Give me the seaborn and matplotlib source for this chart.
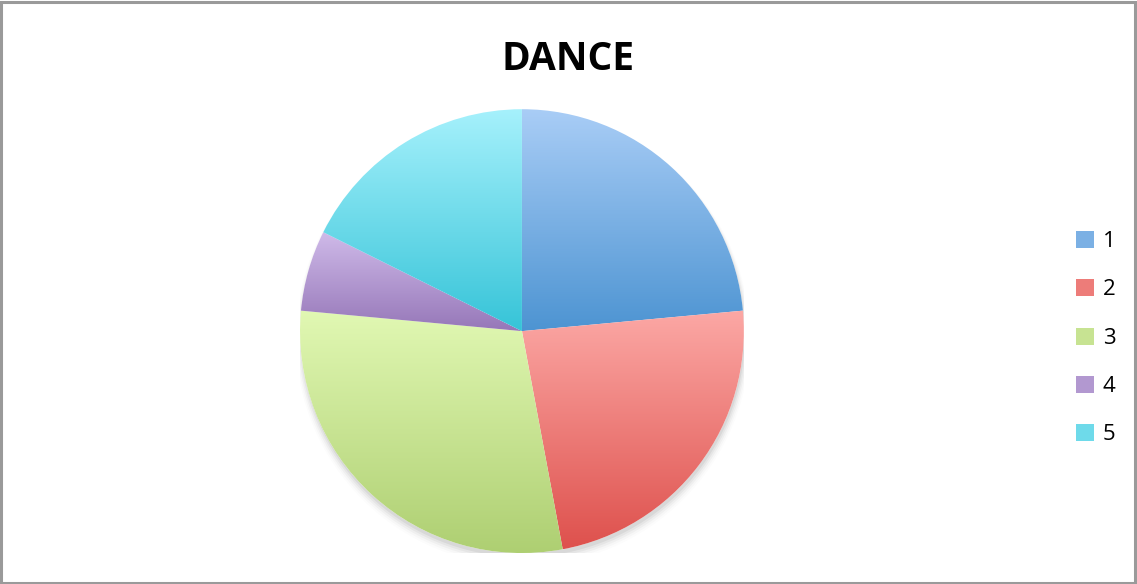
import numpy as np
import matplotlib
matplotlib.use("Agg")
import matplotlib.pyplot as plt
from matplotlib.patches import Patch, Rectangle, Circle
import seaborn as sns

# Survey responses for DANCE
categories = ["1", "2", "3", "4", "5"]
counts = [4, 4, 5, 1, 3]

# Vertical gradient (light top -> deeper bottom) for each slice
top_colors = ["#a9cdf6", "#fca8a5", "#e1f8b3", "#cfbae9", "#a6f1fc"]
bottom_colors = ["#4d94d2", "#de514d", "#aecf72", "#9677b8", "#36c4d8"]

sns.set_theme(style="white")
plt.rcParams["font.family"] = ["Open Sans", "DejaVu Sans"]

fig = plt.figure(figsize=(11.37, 5.84), dpi=100)
fig.patch.set_facecolor("white")

ax = fig.add_axes([0.2638, 0.053, 0.3905, 0.760])
ax.set_xlim(-1.0, 1.0)
ax.set_ylim(-1.0, 1.0)
ax.set_aspect("equal")
ax.axis("off")

# soft shadow under the pie
for i, a in enumerate(np.linspace(0.05, 0.01, 5)):
    ax.add_patch(Circle((0.004, -0.018 - 0.004 * i), 1.0 + 0.006 * i,
                        facecolor="black", edgecolor="none", alpha=a, zorder=0))
ax.add_patch(Circle((0, 0), 1.0, facecolor="white", edgecolor="none", zorder=0.5))

wedges, _ = ax.pie(counts, startangle=90, counterclock=False, radius=1.0,
                   wedgeprops=dict(linewidth=0, edgecolor="none"))

for w, c_top, c_bot in zip(wedges, top_colors, bottom_colors):
    grad = np.array(sns.blend_palette([c_top, c_bot], n_colors=256))[:, None, :]
    bb = w.get_path().get_extents()
    w.set_facecolor("none")
    im = ax.imshow(grad, extent=[bb.x0, bb.x1, bb.y0, bb.y1], origin="upper",
                   aspect="auto", interpolation="bilinear", zorder=1)
    im.set_clip_path(w)

ax.set_xlim(-1.0, 1.0)
ax.set_ylim(-1.0, 1.0)
ax.set_aspect("equal")

fig.text(0.4995, 0.898, "DANCE", ha="center", va="center",
         fontsize=28, fontweight="bold", color="black")

mid_colors = [sns.blend_palette([t, b], n_colors=3)[1] for t, b in zip(top_colors, bottom_colors)]
handles = [Patch(facecolor=c, edgecolor="none") for c in mid_colors]
leg = fig.legend(handles, categories, loc="center left", bbox_to_anchor=(0.9365, 0.421),
                 frameon=False, fontsize=16, handlelength=0.8, handleheight=0.8,
                 handletextpad=0.4, labelspacing=1.22, borderpad=0)
for t in leg.get_texts():
    t.set_color("black")

fig.patches.append(Rectangle((0.001, 0.002), 0.997, 0.995, transform=fig.transFigure,
                             fill=False, edgecolor="#9a9a9a", linewidth=2.2))

fig.savefig("out.png", dpi=100, facecolor="white")
